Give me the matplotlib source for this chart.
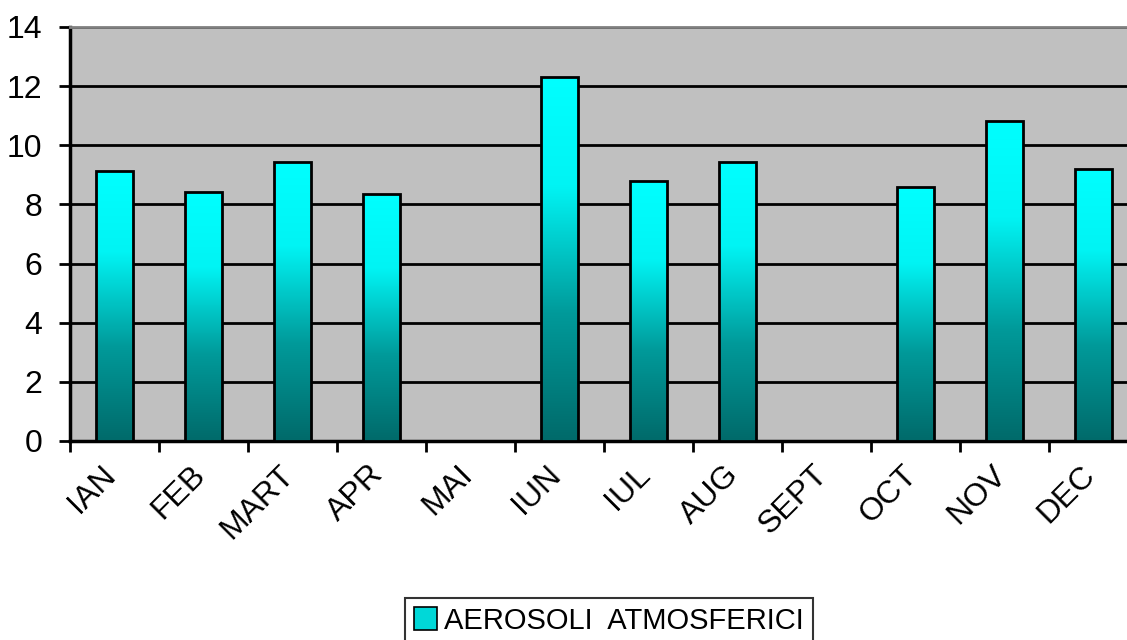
import numpy as np
import matplotlib
matplotlib.use("Agg")
import matplotlib.pyplot as plt
from matplotlib.colors import LinearSegmentedColormap
from matplotlib.patches import Patch
from matplotlib.transforms import ScaledTranslation

months = ["IAN", "FEB", "MART", "APR", "MAI", "IUN", "IUL", "AUG", "SEPT", "OCT", "NOV", "DEC"]
values = [9.13, 8.42, 9.43, 8.35, np.nan, 12.31, 8.79, 9.43, np.nan, 8.59, 10.82, 9.20]
series_name = "AEROSOLI  ATMOSFERICI"
y_ticks = [0, 2, 4, 6, 8, 10, 12, 14]

plt.rcParams['font.family'] = ['Liberation Sans', 'DejaVu Sans']

fig = plt.figure(figsize=(11.27, 6.4), dpi=100)
fig.patch.set_facecolor("white")
ax = fig.add_axes([70 / 1127, 1 - 441 / 640, (1138 - 70) / 1127, (441 - 27) / 640])
ax.set_facecolor("#C0C0C0")

cmap = LinearSegmentedColormap.from_list(
    "bar", [(0.0, "#006A6A"), (0.35, "#009A9A"), (0.70, "#00F4F4"), (1.0, "#00FFFF")])

x = np.arange(len(months))
vals = np.array(values, dtype=float)
mask = ~np.isnan(vals)
bars = ax.bar(x[mask], vals[mask], width=0.41, facecolor="none",
              edgecolor="black", linewidth=2.0, zorder=4)

grad = np.linspace(0, 1, 256).reshape(-1, 1)
for b in bars:
    x0, y0 = b.get_x(), b.get_y()
    w, h = b.get_width(), b.get_height()
    im = ax.imshow(grad, cmap=cmap, origin="lower", aspect="auto",
                   extent=(x0, x0 + w, y0, y0 + h), zorder=3, interpolation="bilinear")
    im.set_clip_path(b)

ax.set_xlim(-0.5, len(months) - 0.5)
ax.set_ylim(0, 14)
ax.set_yticks(y_ticks)
ax.set_yticklabels([str(t) for t in y_ticks], fontsize=23)
ax.yaxis.grid(True, color="black", linewidth=2.0, zorder=1)
ax.set_axisbelow(True)

# x ticks at category boundaries, labels at centers
ax.set_xticks(np.arange(len(months) + 1) - 0.5)
ax.set_xticklabels([])
ax.set_xticks(x, minor=True)
ax.set_xticklabels(months, minor=True, rotation=45, ha="right", va="center",
                   rotation_mode="anchor", fontsize=23)
ax.tick_params(axis="x", which="minor", length=0, pad=21)
ax.tick_params(axis="x", which="major", length=8, width=2, direction="out")
ax.tick_params(axis="y", length=8, width=2, direction="out", pad=12)
offset = ScaledTranslation(-3 / 100, 0, fig.dpi_scale_trans)
for lab in ax.get_xticklabels(minor=True):
    lab.set_transform(lab.get_transform() + offset)

for s in ["left", "bottom"]:
    ax.spines[s].set_color("black")
    ax.spines[s].set_linewidth(2.5)
ax.spines["top"].set_color("#808080")
ax.spines["top"].set_linewidth(2)
ax.spines["right"].set_visible(False)

handle = Patch(facecolor="#00D8D8", edgecolor="black", linewidth=1.2)
leg = fig.legend([handle], [series_name], loc="upper left",
                 bbox_to_anchor=(405 / 1127, 1 - 598 / 640), fontsize=21,
                 frameon=True, fancybox=False, borderpad=0.3, handlelength=0.8,
                 handleheight=0.8, handletextpad=0.25, borderaxespad=0)
leg.get_frame().set_edgecolor("black")
leg.get_frame().set_linewidth(1.5)

fig.savefig("out.png", dpi=100)
